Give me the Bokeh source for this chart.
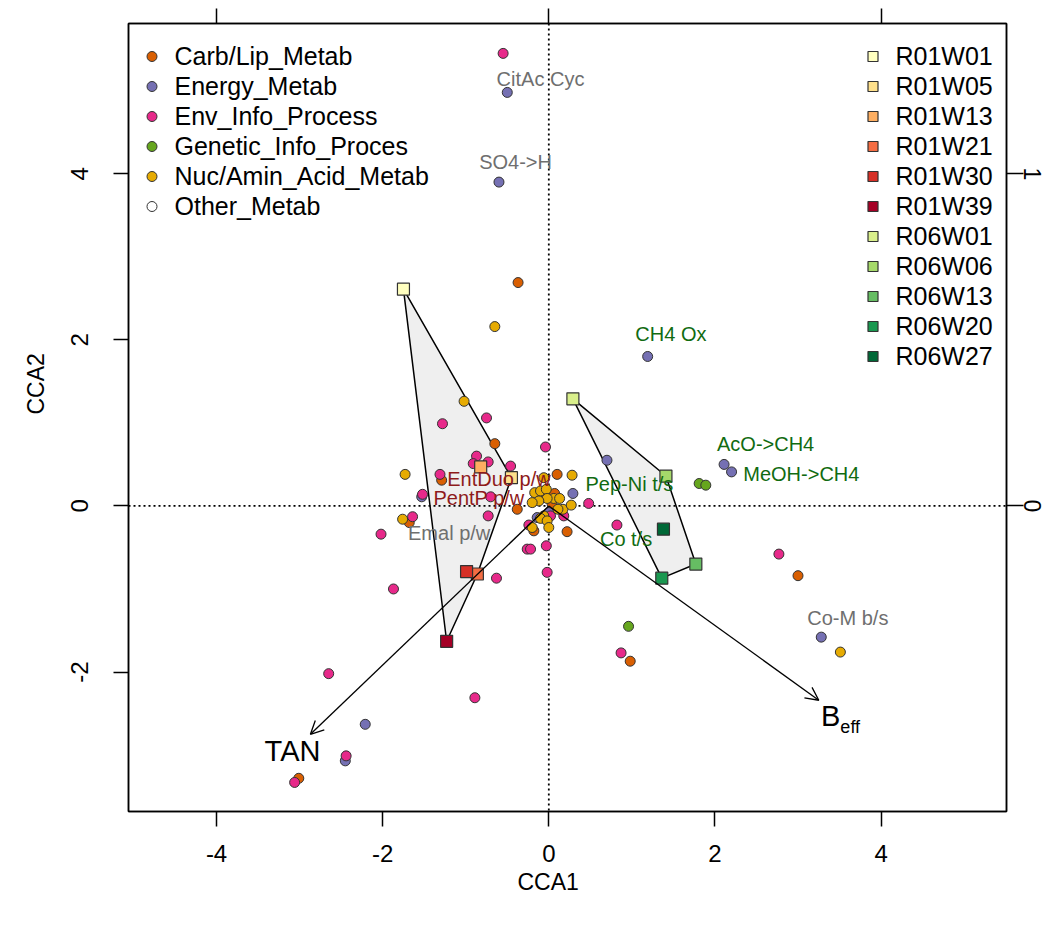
import math
from bokeh.plotting import figure
from bokeh.models import (Range1d, LinearAxis, FixedTicker, Span, Arrow, OpenHead,
                          Label, Legend, LegendItem, ColumnDataSource, Title,
                          CustomLabelingPolicy)
from bokeh.embed import file_html
from bokeh.resources import INLINE
from bokeh.core.properties import value

FONT = "Liberation Sans"

# ---------------- data ----------------
categories = ["Carb/Lip_Metab", "Energy_Metab", "Env_Info_Process",
              "Genetic_Info_Proces", "Nuc/Amin_Acid_Metab", "Other_Metab"]
cat_colors = ["#D95F02", "#7570B3", "#E7298A", "#66A61E", "#E6AB02", "#FFFFFF"]

carb_x = [-0.37, -0.65, -1.29, 0.10, -0.38, -1.68, -0.04, 0.07, 0.04, -0.18, 0.22, 3.00, 0.98, -3.01]
carb_y = [2.69, 0.75, 0.31, 0.38, -0.04, -0.20, 0.15, 0.15, 0.02, -0.30, -0.31, -0.84, -1.87, -3.28]

energy_x = [-0.50, -0.60, 1.19, -1.53, 0.29, 0.70, 2.11, 2.20, 0.00, -0.14, 3.28, -2.21, -2.45]
energy_y = [4.98, 3.90, 1.80, 0.11, 0.15, 0.55, 0.50, 0.41, -0.08, -0.14, -1.58, -2.63, -3.07]

env_x = [-0.55, -0.04, -1.28, -0.75, -0.87, -0.91, -0.73, -0.46, -1.31, -1.52, -0.70, 0.48,
         -1.64, -2.02, -0.73, 0.02, 0.18, -0.24, -0.26, -0.22, -0.03, -0.02, -0.63, 0.82,
         2.77, 0.87, -1.87, -2.65, -0.89, -2.44, -3.06]
env_y = [5.45, 0.71, 0.99, 1.06, 0.60, 0.51, 0.53, 0.48, 0.38, 0.14, 0.11, 0.03,
         -0.13, -0.34, -0.12, -0.12, -0.12, -0.23, -0.52, -0.52, -0.48, -0.80, -0.87, -0.23,
         -0.58, -1.77, -1.00, -2.02, -2.31, -3.01, -3.33]

genetic_x = [1.81, 1.89, 0.96]
genetic_y = [0.27, 0.25, -1.45]

nuc_x = [-0.65, -1.02, -1.73, -0.06, 0.28, -1.76, -0.17, -0.10, -0.03, 0.06, 0.13, -0.02,
         -0.12, -0.20, 0.17, 0.27, 0.11, -0.06, -0.10, -0.02, 0.00, -0.20, 3.51]
nuc_y = [2.16, 1.26, 0.38, 0.34, 0.37, -0.16, 0.16, 0.18, 0.20, 0.09, 0.09, 0.09,
         0.06, 0.04, -0.04, 0.01, -0.04, -0.12, -0.15, -0.18, -0.26, -0.26, -1.76]

other_x = [float("nan")]
other_y = [float("nan")]

sites = ["R01W01", "R01W05", "R01W13", "R01W21", "R01W30", "R01W39",
         "R06W01", "R06W06", "R06W13", "R06W20", "R06W27"]
site_x = [-1.75, -0.45, -0.82, -0.86, -0.99, -1.23, 0.29, 1.41, 1.77, 1.36, 1.38]
site_y = [2.61, 0.34, 0.47, -0.82, -0.79, -1.63, 1.29, 0.36, -0.70, -0.87, -0.28]
site_colors = ["#FFFFBF", "#FEE08B", "#FDAE61", "#F46D43", "#D73027", "#A50026",
               "#D9EF8B", "#A6D96A", "#66BD63", "#1A9850", "#006837"]

hull_r01 = ["R01W01", "R01W05", "R01W21", "R01W39"]
hull_r06 = ["R06W01", "R06W06", "R06W13", "R06W20"]

env_vars = ["TAN", "B"]
env_arrow_x = [-2.87, 3.25]
env_arrow_y = [-2.75, -2.34]

fn_labels = ["CitAc Cyc", "SO4->H", "CH4 Ox", "AcO->CH4", "MeOH->CH4", "Pep-Ni t/s",
             "Co t/s", "Co-M b/s", "EntDuo p/w", "PentP p/w", "Emal p/w"]
fn_label_x = [-0.10, -0.40, 1.47, 2.61, 3.04, 0.97, 0.93, 3.60, -0.60, -0.84, -1.20]
fn_label_y = [5.14, 4.14, 2.07, 0.74, 0.38, 0.26, -0.40, -1.35, 0.32, 0.09, -0.32]
fn_label_colors = ["#6F6F6F", "#6F6F6F", "#116B11", "#116B11", "#116B11", "#116B11",
                   "#116B11", "#6F6F6F", "#8E1B1B", "#8E1B1B", "#6F6F6F"]

x_ticks = [-4, -2, 0, 2, 4]
y_ticks = [-2, 0, 2, 4]
sec_ticks = [-1, 0, 1]

# ---------------- figure ----------------
XMIN, XMAX = -5.06, 5.51
YMIN, YMAX = -3.68, 5.81
SEC = 4.0

p = figure(width=1050, height=900, x_range=Range1d(XMIN, XMAX), y_range=Range1d(YMIN, YMAX),
           output_backend="svg", toolbar_location=None,
           min_border_left=128, min_border_right=44, min_border_top=23, min_border_bottom=89)
p.grid.visible = False
p.outline_line_color = "black"
p.outline_line_width = 1.5
p.background_fill_color = "white"
p.border_fill_color = "white"

p.extra_x_ranges = {"top": Range1d(XMIN / SEC, XMAX / SEC)}
p.extra_y_ranges = {"right": Range1d(YMIN / SEC, YMAX / SEC)}


def style_axis(ax, tick_out):
    ax.major_tick_out = tick_out
    ax.major_tick_in = 0
    ax.minor_tick_out = 0
    ax.minor_tick_in = 0
    ax.axis_line_width = 1.5
    ax.axis_line_color = "black"
    ax.major_tick_line_width = 1.5
    ax.major_tick_line_color = "black"
    ax.major_label_text_font = FONT
    ax.major_label_text_font_size = "24px"
    ax.major_label_text_color = "black"


xa = p.xaxis[0]
ya = p.yaxis[0]
style_axis(xa, 15)
style_axis(ya, 15)
xa.ticker = FixedTicker(ticks=x_ticks)
ya.ticker = FixedTicker(ticks=y_ticks)
xa.major_label_overrides = {t: str(t) for t in x_ticks}
ya.major_label_overrides = {t: str(t) for t in y_ticks}
xa.major_label_standoff = 18
ya.major_label_standoff = 25
ya.major_label_orientation = "vertical"

top_ax = LinearAxis(x_range_name="top", ticker=FixedTicker(ticks=sec_ticks))
style_axis(top_ax, 15)
top_ax.major_label_text_font_size = "1px"
top_ax.major_label_standoff = 0
top_ax.major_label_policy = CustomLabelingPolicy(code="return []")
p.add_layout(top_ax, "above")

right_ax = LinearAxis(y_range_name="right", ticker=FixedTicker(ticks=sec_ticks))
style_axis(right_ax, 17)
right_ax.major_label_text_font_size = "23px"
right_ax.major_label_standoff = 0
right_ax.major_label_orientation = "vertical"
right_ax.major_label_overrides = {t: str(t) for t in sec_ticks}
p.add_layout(right_ax, "right")

# axis titles (offset measured from the frame's left / bottom edge)
p.add_layout(Title(text="CCA1", align="left", offset=389, standoff=5,
                   text_font=FONT, text_font_size="23px", text_font_style="normal",
                   text_color="black"), "below")
p.add_layout(Title(text="CCA2", align="left", offset=397, standoff=39,
                   text_font=FONT, text_font_size="23px", text_font_style="normal",
                   text_color="black"), "left")

# hulls
def hull_coords(names):
    idx = [sites.index(n) for n in names]
    return [site_x[i] for i in idx], [site_y[i] for i in idx]

for hull in (hull_r01, hull_r06):
    hx, hy = hull_coords(hull)
    p.patch(hx, hy, fill_color="#EFEFEF", line_color="black", line_width=1.5, level="underlay")

# zero lines
p.add_layout(Span(location=0, dimension="height", line_color="black", line_width=1.8,
                  line_dash="2 3", level="underlay"))
p.add_layout(Span(location=0, dimension="width", line_color="black", line_width=1.8,
                  line_dash="2 3", level="underlay"))

# function points
cat_data = [(carb_x, carb_y), (energy_x, energy_y), (env_x, env_y),
            (genetic_x, genetic_y), (nuc_x, nuc_y), (other_x, other_y)]
cat_renderers = []
for (xs, ys), col in zip(cat_data, cat_colors):
    r = p.scatter(xs, ys, marker="circle", size=10, fill_color=col,
                  line_color="#333333", line_width=1)
    cat_renderers.append(r)

# arrows
for ex, ey in zip(env_arrow_x, env_arrow_y):
    p.add_layout(Arrow(end=OpenHead(size=13, line_width=1.3, line_color="black"),
                       x_start=0, y_start=0, x_end=ex, y_end=ey,
                       line_width=1.3, line_color="black"))

# sites
site_renderers = []
for sx, sy, col in zip(site_x, site_y, site_colors):
    r = p.scatter([sx], [sy], marker="square", size=12, fill_color=col,
                  line_color="#333333", line_width=1.2)
    site_renderers.append(r)

# function labels
src = ColumnDataSource(dict(x=fn_label_x, y=fn_label_y, t=fn_labels, c=fn_label_colors))
p.text(x="x", y="y", text="t", source=src, text_color="c", text_align="center",
       text_baseline="middle", text_font=value(FONT), text_font_size="20px")

# env labels
p.add_layout(Label(x=env_arrow_x[0] * 1.075, y=env_arrow_y[0] * 1.075, text=env_vars[0],
                   text_font=FONT, text_font_size="29px", text_align="center",
                   text_baseline="middle", text_color="black"))
p.add_layout(Label(x=env_arrow_x[1] * 1.08, y=env_arrow_y[1] * 1.08, text=env_vars[1],
                   text_font=FONT, text_font_size="29px", text_align="right",
                   text_baseline="middle", text_color="black"))
p.add_layout(Label(x=env_arrow_x[1] * 1.08, y=env_arrow_y[1] * 1.08, y_offset=-11, text="eff",
                   text_font=FONT, text_font_size="18px", text_align="left",
                   text_baseline="middle", text_color="black"))

# legends
def make_legend(labels, renderers, loc):
    leg = Legend(items=[LegendItem(label=l, renderers=[r]) for l, r in zip(labels, renderers)],
                 location=loc, padding=0, margin=0, spacing=0,
                 glyph_width=25, glyph_height=30, label_height=30, label_standoff=11,
                 label_text_font=FONT, label_text_font_size="25px", label_text_color="black",
                 border_line_color=None, background_fill_alpha=0)
    return leg

p.add_layout(make_legend(categories, cat_renderers, (10.5, 590.0)))
p.add_layout(make_legend(sites, site_renderers, (731.5, 440.0)))

open("out.html", "w").write(file_html(p, INLINE))
